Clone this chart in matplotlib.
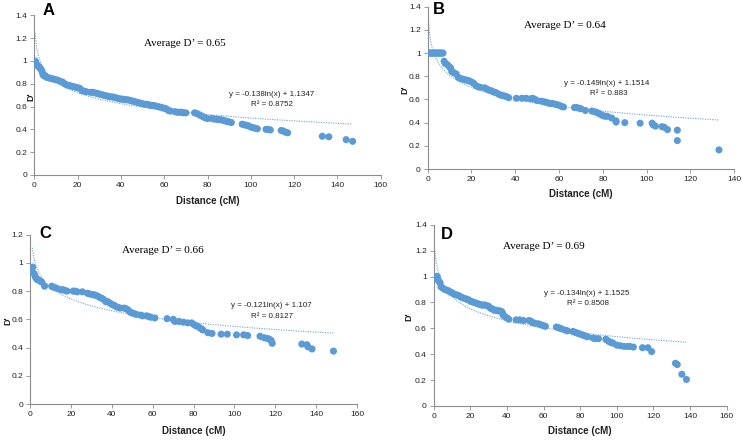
import numpy as np
import matplotlib
matplotlib.use('Agg')
import matplotlib.pyplot as plt
from matplotlib import font_manager

# Pick a narrow sans font if we have one (the original looks like Calibri)
names = set(f.name for f in font_manager.fontManager.ttflist)
narrow = 'Liberation Sans Narrow' if 'Liberation Sans Narrow' in names else 'Liberation Sans'

blue = '#5b9bd5'

# ---------------------------------------------------------------- data
a_x = [0.3, 0.6, 1, 1.5, 2, 2.5, 3, 3.5, 4, 4.5, 5, 5.5, 6, 7, 8, 9, 10, 11, 12, 13, 14, 15,
       16, 17, 18, 19, 20, 21, 22, 23, 24, 26, 27, 28, 29, 30, 31, 32, 33, 34, 35, 36, 37, 38,
       39, 40, 41, 42, 43, 44, 45, 46, 47, 48, 49, 50, 51, 52, 53, 54, 55, 56, 57, 58, 59, 60,
       61, 62, 63, 65, 66, 67, 68, 69, 70, 74, 75, 76, 77, 78, 79, 80, 82, 83, 84, 85, 86, 87,
       88, 89, 90, 91, 96, 97, 98, 99, 100, 101, 102, 103, 107, 108, 109, 114, 115, 116, 117,
       133, 136, 144, 147]
a_y = [1.00, 0.99, 0.97, 0.96, 0.95, 0.94, 0.93, 0.91, 0.88, 0.87, 0.87, 0.86, 0.855, 0.85,
       0.845, 0.84, 0.835, 0.83, 0.82, 0.815, 0.80, 0.79, 0.785, 0.78, 0.775, 0.77, 0.765, 0.76,
       0.74, 0.735, 0.73, 0.725, 0.725, 0.72, 0.715, 0.71, 0.705, 0.70, 0.695, 0.69, 0.685,
       0.685, 0.68, 0.675, 0.67, 0.665, 0.665, 0.66, 0.66, 0.655, 0.65, 0.645, 0.64, 0.635,
       0.63, 0.625, 0.62, 0.62, 0.615, 0.61, 0.61, 0.605, 0.60, 0.595, 0.59, 0.585, 0.58, 0.565,
       0.56, 0.555, 0.55, 0.55, 0.55, 0.545, 0.545, 0.545, 0.54, 0.53, 0.52, 0.51, 0.50, 0.495,
       0.495, 0.49, 0.49, 0.485, 0.485, 0.48, 0.475, 0.47, 0.465, 0.46, 0.445, 0.44, 0.435,
       0.43, 0.42, 0.415, 0.41, 0.405, 0.40, 0.40, 0.395, 0.39, 0.385, 0.375, 0.37, 0.34, 0.335,
       0.31, 0.295]

b_x = [0, 0.5, 1, 1.5, 2, 2.5, 3, 3.5, 4, 4.5, 5, 5.5, 6, 6.5, 7, 7.5, 8, 9, 10, 10.5, 11,
       12, 13, 14, 15, 16, 17, 18, 19, 20, 21, 22, 23, 24, 26, 27, 28, 29, 30, 31, 32, 33, 34,
       35, 36, 37, 40.5, 43, 45, 47, 48, 49, 50, 52, 53, 54, 55, 56, 57, 58, 59, 60, 61, 62, 67,
       68, 69, 70, 72, 75, 76, 77, 78, 79, 80, 81, 82, 84, 86, 86, 90, 97, 102.5, 103, 104, 107,
       108, 109.5, 114, 114, 133]
b_y = [1.0, 1.0, 1.0, 1.0, 1.0, 1.0, 1.0, 1.0, 1.0, 1.0, 1.0, 1.0, 1.0, 1.0, 1.0, 0.93, 0.91,
       0.90, 0.88, 0.87, 0.84, 0.83, 0.82, 0.79, 0.78, 0.775, 0.77, 0.765, 0.76, 0.75, 0.74,
       0.72, 0.71, 0.705, 0.70, 0.69, 0.68, 0.675, 0.665, 0.66, 0.65, 0.64, 0.635, 0.63, 0.625,
       0.615, 0.61, 0.61, 0.61, 0.605, 0.61, 0.60, 0.59, 0.585, 0.58, 0.575, 0.57, 0.565,
       0.565, 0.56, 0.555, 0.55, 0.54, 0.535, 0.53, 0.53, 0.525, 0.52, 0.505, 0.50, 0.495, 0.49,
       0.48, 0.47, 0.46, 0.455, 0.455, 0.44, 0.415, 0.405, 0.40, 0.395, 0.395, 0.38, 0.37,
       0.365, 0.36, 0.34, 0.335, 0.245, 0.165]

c_x = [1.2, 1.5, 2, 2.5, 3, 3.5, 4, 5, 5.5, 7, 10.5, 11, 12, 13, 15, 16, 17, 18, 21, 22, 23,
       25.5, 28, 29, 30.5, 31, 32, 33, 34, 35, 36, 37, 38, 39, 40, 41, 42, 43, 44, 46, 47, 48,
       49, 50, 51, 52, 54, 55, 57, 58, 59, 61, 67, 70, 70.5, 71, 73, 75, 77, 79, 80, 81, 82, 83,
       84, 84.5, 87, 89, 93.5, 96.5, 101, 104.5, 106.5, 112.5, 114.5, 116, 117, 118, 118.5, 133,
       135.5, 136, 138, 148.5]
c_y = [0.97, 0.93, 0.92, 0.90, 0.89, 0.88, 0.88, 0.87, 0.865, 0.835, 0.835, 0.83, 0.825, 0.82,
       0.81, 0.81, 0.805, 0.80, 0.80, 0.80, 0.795, 0.795, 0.785, 0.78, 0.775, 0.775, 0.77, 0.765,
       0.755, 0.75, 0.74, 0.725, 0.725, 0.715, 0.705, 0.70, 0.69, 0.685, 0.68, 0.68, 0.675,
       0.665, 0.65, 0.645, 0.64, 0.635, 0.63, 0.625, 0.625, 0.62, 0.615, 0.61, 0.605, 0.60,
       0.59, 0.585, 0.585, 0.58, 0.575, 0.575, 0.565, 0.555, 0.55, 0.54, 0.53, 0.525, 0.505,
       0.50, 0.495, 0.495, 0.49, 0.49, 0.485, 0.48, 0.47, 0.465, 0.46, 0.45, 0.43, 0.425, 0.42,
       0.405, 0.39, 0.375]

d_x = [1, 2, 2.5, 3, 3.5, 4, 5, 6, 7, 8, 9, 10, 11, 12, 13, 14, 15, 16, 17, 18, 19, 20, 21,
       22, 23, 24, 25, 26, 27, 28, 29, 30, 31, 32, 33, 34, 35, 36, 37, 37.5, 38, 39, 40, 41, 45,
       47, 49, 52, 53, 54, 55, 57, 58, 59, 60, 61, 67, 68, 69, 70, 72, 73, 76, 77, 78, 79, 80,
       81, 82, 83, 84, 87, 88, 90, 94, 95, 96, 97, 98, 100, 102, 104, 106, 107, 109, 114, 117,
       119, 132, 133, 135.5, 138]
d_y = [1.0, 1.0, 0.97, 0.96, 0.95, 0.92, 0.91, 0.90, 0.895, 0.89, 0.88, 0.875, 0.865, 0.86,
       0.855, 0.85, 0.84, 0.835, 0.83, 0.825, 0.82, 0.81, 0.805, 0.80, 0.795, 0.79, 0.785, 0.78,
       0.78, 0.78, 0.775, 0.77, 0.755, 0.75, 0.74, 0.74, 0.735, 0.735, 0.73, 0.72, 0.70, 0.69,
       0.68, 0.67, 0.665, 0.665, 0.66, 0.66, 0.655, 0.645, 0.64, 0.635, 0.63, 0.625, 0.62,
       0.615, 0.61, 0.605, 0.60, 0.595, 0.585, 0.58, 0.575, 0.57, 0.565, 0.56, 0.555, 0.55,
       0.545, 0.54, 0.535, 0.525, 0.52, 0.52, 0.515, 0.505, 0.495, 0.49, 0.485, 0.47, 0.465,
       0.46, 0.46, 0.46, 0.455, 0.45, 0.45, 0.42, 0.33, 0.32, 0.245, 0.205]

# log trend line coefficients, as printed on the chart
trend_a = [-0.138, 1.1347]
trend_b = [-0.149, 1.1514]
trend_c = [-0.121, 1.107]
trend_d = [-0.134, 1.1525]

averages = ['0.65', '0.64', '0.66', '0.69']
r_squared = ['0.8752', '0.883', '0.8127', '0.8508']
letters = ['A', 'B', 'C', 'D']

# ---------------------------------------------------------------- layout
fig = plt.figure(figsize=(7.42, 4.4), dpi=100)

panels = [
    # rect, data, trend, start of trend, xmax, ymax, text spots, ylabel x
    dict(rect=[0.0462, 0.6023, 0.4670, 0.3629], x=a_x, y=a_y, tr=trend_a, t0=0.45,
         xmax=160, ymax=1.4, avg=(69.6, 1.157), eq=(109.7, 0.708), r2=(109.7, 0.614),
         let=(6.8, 1.44), ylx=-0.01, xly=-0.16),
    dict(rect=[0.5764, 0.6159, 0.4132, 0.3689], x=b_x, y=b_y, tr=trend_b, t0=0.35,
         xmax=140, ymax=1.4, avg=(62.7, 1.24), eq=(81.7, 0.739), r2=(82.5, 0.647),
         let=(5.3, 1.372), ylx=-0.074, xly=-0.155),
    dict(rect=[0.0408, 0.0818, 0.4403, 0.3848], x=c_x, y=c_y, tr=trend_c, t0=1.0,
         xmax=160, ymax=1.2, avg=(65.1, 1.086), eq=(118.2, 0.695), r2=(118.2, 0.619),
         let=(7.2, 1.21), ylx=-0.07, xly=-0.158),
    dict(rect=[0.5845, 0.0773, 0.3949, 0.4120], x=d_x, y=d_y, tr=trend_d, t0=0.7,
         xmax=160, ymax=1.4, avg=(59.9, 1.235), eq=(83.5, 0.870), r2=(84.4, 0.788),
         let=(7.1, 1.328), ylx=-0.084, xly=-0.136),
]

for i, p in enumerate(panels):
    ax = fig.add_axes(p['rect'])

    # scatter of D' vs distance
    ax.scatter(p['x'], p['y'], s=26, color=blue, edgecolors='none', zorder=3)

    # fitted log trend line
    xs = np.linspace(p['t0'], max(p['x']), 400)
    ax.plot(xs, p['tr'][0] * np.log(xs) + p['tr'][1], color=blue, lw=0.8,
            ls=(0, (1, 1.2)), alpha=0.9, zorder=2)

    ax.set_xlim(0, p['xmax'])
    ax.set_ylim(0, p['ymax'])
    ax.set_xticks(np.arange(0, p['xmax'] + 1, 20))
    yt = np.round(np.arange(0, p['ymax'] + 0.01, 0.2), 1)
    ax.set_yticks(yt)
    ax.set_yticklabels([('%g' % v) for v in yt])

    for s in ['top', 'right']:
        ax.spines[s].set_visible(False)
    for s in ['left', 'bottom']:
        ax.spines[s].set_color('#8c8c8c')
        ax.spines[s].set_linewidth(0.8)
    ax.tick_params(length=3, width=0.6, color='#8c8c8c', pad=2,
                   labelsize=6, labelcolor='#222222')
    for lab in ax.get_xticklabels() + ax.get_yticklabels():
        lab.set_family(narrow)

    # axis titles
    ax.text(p['ylx'], 0.49, "D'", transform=ax.transAxes, rotation=90, ha='center',
            va='center', family=narrow, fontsize=6.5, fontweight='bold', color='#222222')
    ax.text(0.5, p['xly'], 'Distance (cM)', transform=ax.transAxes, ha='center',
            va='center', family=narrow, fontsize=7, fontweight='bold', color='#222222')

    ax.text(p['avg'][0], p['avg'][1], "Average D\u2019 = " + averages[i],
            family='Liberation Serif', fontsize=8, ha='center', va='center')
    sign = '-' if p['tr'][0] < 0 else ''
    eq = 'y = %s%gln(x) + %g' % (sign, abs(p['tr'][0]), p['tr'][1])
    ax.text(p['eq'][0], p['eq'][1], eq, family=narrow, fontsize=5.8,
            ha='center', va='center', color='#222222')
    ax.text(p['r2'][0], p['r2'][1], 'R\u00b2 = ' + r_squared[i], family=narrow,
            fontsize=5.8, ha='center', va='center', color='#222222')
    ax.text(p['let'][0], p['let'][1], letters[i], family='Liberation Sans',
            fontsize=12, fontweight='bold', ha='center', va='center', clip_on=False)

fig.savefig('out.png', dpi=100)
